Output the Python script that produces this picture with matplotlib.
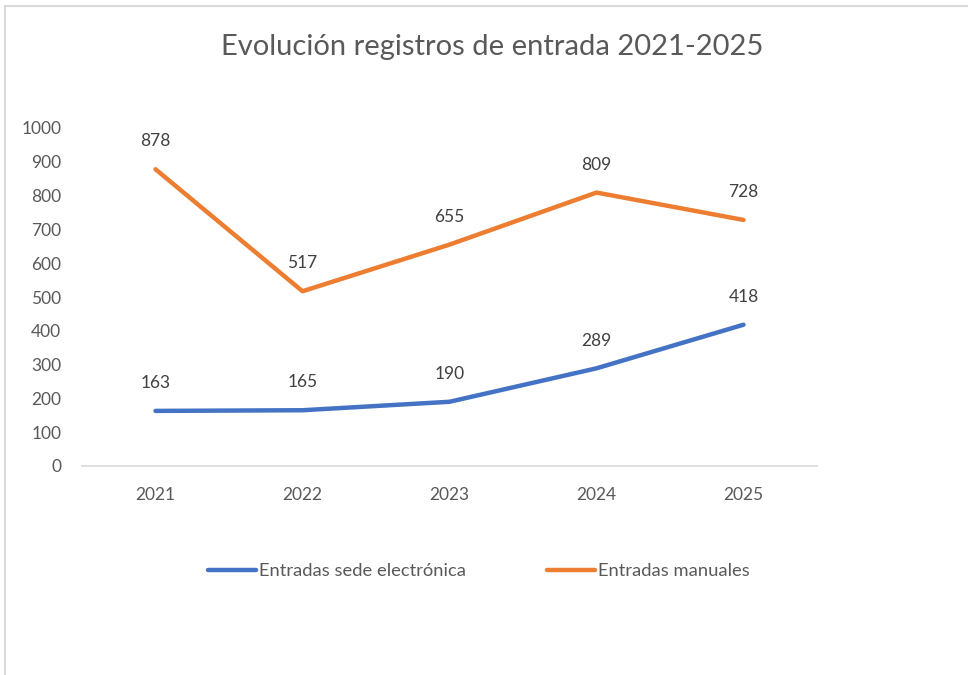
import matplotlib.pyplot as plt
from matplotlib.lines import Line2D

years = ["2021", "2022", "2023", "2024", "2025"]
sede_electronica = [163, 165, 190, 289, 418]
manuales = [878, 517, 655, 809, 728]
series_names = ["Entradas sede electrónica", "Entradas manuales"]

plt.rcParams['font.family'] = ['Lato', 'DejaVu Sans']

W, H = 968, 675
fig = plt.figure(figsize=(W / 100, H / 100), dpi=100)
ax = fig.add_axes([82 / W, 1 - 466 / H, (817 - 82) / W, (466 - 128) / H])

x = list(range(len(years)))
blue = "#4472C4"
orange = "#ED7D31"
ax.plot(x, sede_electronica, color=blue, lw=3.2, solid_capstyle='round', solid_joinstyle='round')
ax.plot(x, manuales, color=orange, lw=3.2, solid_capstyle='round', solid_joinstyle='round')

for series in (sede_electronica, manuales):
    for xi, v in zip(x, series):
        ax.annotate(str(v), (xi, v), xytext=(0, 20), textcoords='offset points',
                    ha='center', va='center', fontsize=12.5, color='#404040')

ax.set_xlim(-0.5, 4.5)
ax.set_ylim(0, 1000)
ax.set_yticks(range(0, 1001, 100))
ax.set_xticks(x)
ax.set_xticklabels(years)
for s in ('top', 'right', 'left'):
    ax.spines[s].set_visible(False)
ax.spines['bottom'].set_color('#D9D9D9')
ax.spines['bottom'].set_linewidth(1.2)
ax.tick_params(axis='both', length=0, labelsize=12.5, labelcolor='#595959')
ax.tick_params(axis='y', pad=15)
ax.tick_params(axis='x', pad=15)

fig.text(492 / W, 1 - 47 / H, "Evolución registros de entrada 2021-2025",
         ha='center', va='center', fontsize=21, color='#595959')

handles = [Line2D([], [], color=blue, lw=3.2, solid_capstyle='round'),
           Line2D([], [], color=orange, lw=3.2, solid_capstyle='round')]
fig.legend(handles, series_names, loc='center', bbox_to_anchor=(479 / W, 1 - 571 / H),
           ncol=2, frameon=False, fontsize=13.2, labelcolor='#595959',
           handlelength=2.6, handletextpad=0.2, columnspacing=4.4)

# chart border (only top and left visible in the reference)
fig.add_artist(Line2D([5 / W, 1], [1 - 6 / H, 1 - 6 / H], color='#D9D9D9', lw=1.5,
                      transform=fig.transFigure))
fig.add_artist(Line2D([5 / W, 5 / W], [0, 1 - 6 / H], color='#D9D9D9', lw=1.5,
                      transform=fig.transFigure))

fig.savefig("out.png", dpi=100)
